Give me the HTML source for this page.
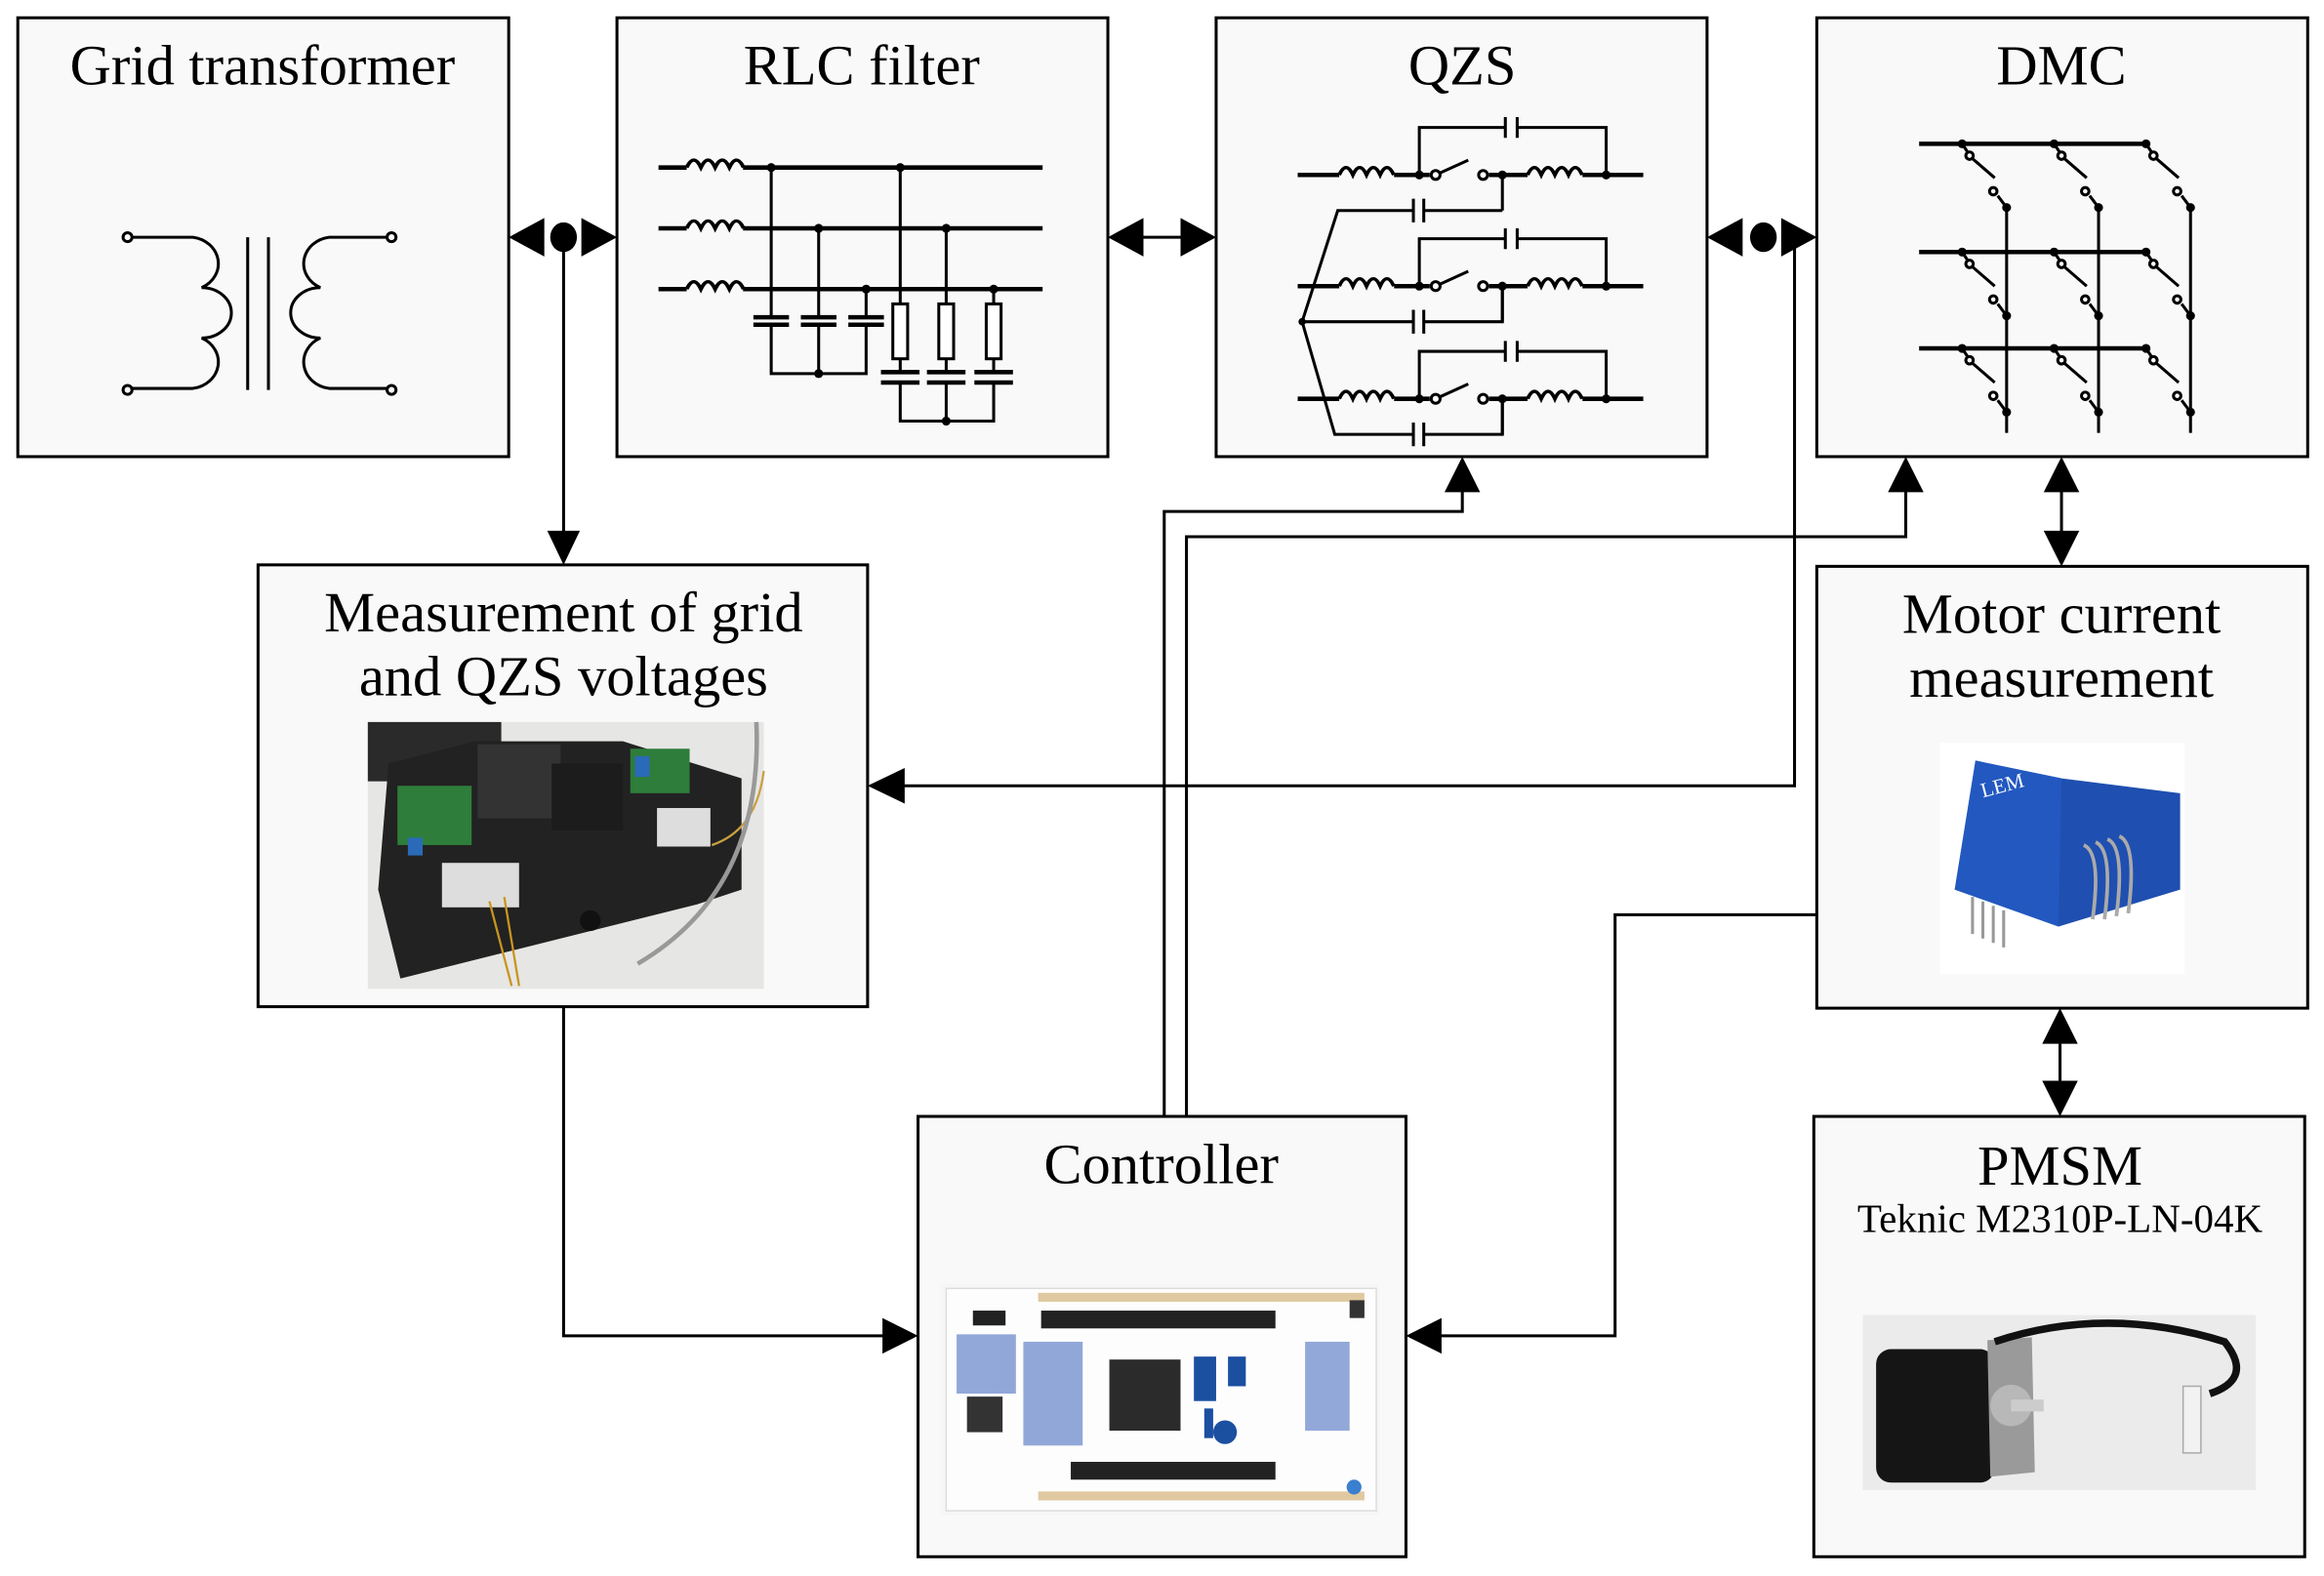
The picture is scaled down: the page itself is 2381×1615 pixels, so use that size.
<!DOCTYPE html>
<html><head><meta charset="utf-8"><style>
html,body{margin:0;padding:0;background:#fff;}
svg{display:block;}
text{font-family:"Liberation Serif",serif;fill:#000;}
</style></head><body>
<svg width="2381" height="1615" viewBox="0 0 1567 1063" preserveAspectRatio="none" xmlns="http://www.w3.org/2000/svg">
<defs>
<g id="ind"><path d="M0,0 q4,-10 8,0 q4,-10 8,0 q4,-10 8,0 q4,-10 8,0" fill="none" stroke="#000" stroke-width="2.2"/></g>
</defs>
<rect width="1567" height="1063" fill="#fff"/>
<g fill="#f9f9f9" stroke="#000" stroke-width="2">
<rect x="12" y="12" width="331" height="296"/>
<rect x="416" y="12" width="331" height="296"/>
<rect x="820" y="12" width="331" height="296"/>
<rect x="1225" y="12" width="331" height="296"/>
<rect x="174" y="381" width="411" height="298"/>
<rect x="1225" y="382" width="331" height="298"/>
<rect x="619" y="753" width="329" height="297"/>
<rect x="1223" y="753" width="331" height="297"/>
</g>
<g font-size="38.5" text-anchor="middle">
<text x="177" y="57">Grid transformer</text>
<text x="581" y="57">RLC filter</text>
<text x="986" y="57">QZS</text>
<text x="1390" y="57">DMC</text>
<text x="380" y="426">Measurement of grid</text>
<text x="380" y="469">and QZS voltages</text>
<text x="1390" y="427">Motor current</text>
<text x="1390" y="470">measurement</text>
<text x="783" y="798">Controller</text>
<text x="1389" y="799">PMSM</text>
<text x="1389" y="831" font-size="27">Teknic M2310P-LN-04K</text>
</g>
<!-- connectors -->
<g stroke="#000" stroke-width="2" fill="none">
<path d="M380,160 V362"/>
<path d="M1210,160 V530 H605"/>
<path d="M785,753 V345 H986 V328"/>
<path d="M800,753 V362 H1285 V328"/>
<path d="M1390,330 V360"/>
<path d="M1389,700 V732"/>
<path d="M380,679 V901 H600"/>
<path d="M1225,617 H1089 V901 H968"/>
<path d="M765,160 H802"/>
</g>
<g fill="#000">
<polygon points="343,160 367,147 367,173"/><polygon points="416,160 392,147 392,173"/><ellipse cx="380" cy="160" rx="9" ry="10"/>
<polygon points="369,358 391,358 380,381"/>
<polygon points="747,160 771,147 771,173"/><polygon points="820,160 796,147 796,173"/>
<polygon points="1151,160 1175,147 1175,173"/><polygon points="1225,160 1201,147 1201,173"/><ellipse cx="1189" cy="160" rx="9" ry="10"/>
<polygon points="585,530 610,518 610,542"/>
<polygon points="986,308 974,332 998,332"/>
<polygon points="1285,308 1273,332 1297,332"/>
<polygon points="1390,308 1378,332 1402,332"/><polygon points="1390,382 1378,358 1402,358"/>
<polygon points="1389,680 1377,704 1401,704"/><polygon points="1389,753 1377,729 1401,729"/>
<polygon points="619,901 595,889 595,913"/>
<polygon points="948,901 972,889 972,913"/>
</g>
<!-- transformer -->
<g stroke="#000" stroke-width="2" fill="none">
<path d="M89,160 H130 A20,18 0 0 1 136,194 A20,17 0 0 1 136,228 A20,18 0 0 1 130,262 H89"/>
<path d="M261,160 H222 A20,18 0 0 0 216,194 A20,17 0 0 0 216,228 A20,18 0 0 0 222,262 H261"/>
<path d="M167,160 V263 M181,160 V263"/>
<circle cx="86" cy="160" r="3" fill="#fff"/><circle cx="86" cy="263" r="3" fill="#fff"/>
<circle cx="264" cy="160" r="3" fill="#fff"/><circle cx="264" cy="263" r="3" fill="#fff"/>
</g>
<!-- RLC -->
<g stroke="#000" stroke-width="3" fill="none">
<path d="M444,113 H463 M501,113 H703 M444,154 H463 M501,154 H703 M444,195 H463 M501,195 H703"/>
</g>
<g transform="translate(463,113)"><use href="#ind" transform="scale(1.2,1)"/></g>
<g transform="translate(463,154)"><use href="#ind" transform="scale(1.2,1)"/></g>
<g transform="translate(463,195)"><use href="#ind" transform="scale(1.2,1)"/></g>
<g stroke="#000" stroke-width="2" fill="none">
<path d="M520,113 V214 M520,219 V252 H584 V219 M552,154 V214 M552,219 V252 M584,195 V214"/>
<path d="M508,214 H532 M508,219 H532 M540,214 H564 M540,219 H564 M572,214 H596 M572,219 H596" stroke-width="3"/>
<path d="M607,113 V205 M638,154 V205 M670,195 V205 M607,242 V251 M638,242 V251 M670,242 V251 M607,258 V284 H670 V258 M638,258 V284"/>
<rect x="602" y="205" width="10" height="37" fill="#fff"/><rect x="633" y="205" width="10" height="37" fill="#fff"/><rect x="665" y="205" width="10" height="37" fill="#fff"/>
<path d="M594,251 H620 M594,258 H620 M625,251 H651 M625,258 H651 M657,251 H683 M657,258 H683" stroke-width="3"/>
</g>
<g fill="#000"><circle cx="520" cy="113" r="3"/><circle cx="607" cy="113" r="3"/><circle cx="552" cy="154" r="3"/><circle cx="638" cy="154" r="3"/><circle cx="584" cy="195" r="3"/><circle cx="670" cy="195" r="3"/><circle cx="552" cy="252" r="3"/><circle cx="638" cy="284" r="3"/></g>
<!-- QZS -->
<g id="qrow" stroke="#000" stroke-width="2" fill="none">
<path d="M875,118 H903 M940,118 H964 M1004,118 H1030 M1067,118 H1108" stroke-width="3"/>
<path d="M957,118 V86 H1015 M1023,86 H1083 V118 M1015,79 V93 M1023,79 V93 M968,118 L990,108 M1013,118 V142"/>
<circle cx="968" cy="118" r="3" fill="#fff"/><circle cx="1000" cy="118" r="3" fill="#fff"/>
<circle cx="957" cy="118" r="2" fill="#000"/><circle cx="1013" cy="118" r="2" fill="#000"/><circle cx="1083" cy="118" r="2" fill="#000"/>
</g>
<g transform="translate(903,118)"><use href="#ind" transform="scale(1.15,1)"/></g>
<g transform="translate(1030,118)"><use href="#ind" transform="scale(1.15,1)"/></g>
<use href="#qrow" transform="translate(0,75)"/>
<g transform="translate(903,193)"><use href="#ind" transform="scale(1.15,1)"/></g>
<g transform="translate(1030,193)"><use href="#ind" transform="scale(1.15,1)"/></g>
<use href="#qrow" transform="translate(0,151)"/>
<g transform="translate(903,269)"><use href="#ind" transform="scale(1.15,1)"/></g>
<g transform="translate(1030,269)"><use href="#ind" transform="scale(1.15,1)"/></g>
<g stroke="#000" stroke-width="2" fill="none">
<path d="M1013,142 H960 M953,142 H902 L878,217 L900,293 H953 M960,293 H1013 V269"/>
<path d="M878,217 H953 M960,217 H1013 V193"/>
<path d="M953,134 V150 M960,134 V150 M953,209 V225 M960,209 V225 M953,285 V301 M960,285 V301"/>
</g>
<circle cx="878" cy="217" r="2.5" fill="#000"/>
<!-- DMC -->
<g stroke="#000" stroke-width="2" fill="none">
<path d="M1294,97 H1448 M1294,170 H1448 M1294,235 H1448" stroke-width="3"/>
<path d="M1353,138 V292 M1415,138 V292 M1477,138 V292"/>
</g>
<g id="sw" stroke="#000" stroke-width="2" fill="none">
<path d="M1323,97 L1327,103 M1330,107 L1345,120 M1347,132 L1353,140"/>
<circle cx="1328" cy="105" r="2.5" fill="#fff"/><circle cx="1344" cy="129" r="2.5" fill="#fff"/>
<circle cx="1323" cy="97" r="2" fill="#000"/><circle cx="1353" cy="140" r="2" fill="#000"/>
</g>
<use href="#sw" transform="translate(62,0)"/><use href="#sw" transform="translate(124,0)"/>
<use href="#sw" transform="translate(0,73)"/><use href="#sw" transform="translate(62,73)"/><use href="#sw" transform="translate(124,73)"/>
<use href="#sw" transform="translate(0,138)"/><use href="#sw" transform="translate(62,138)"/><use href="#sw" transform="translate(124,138)"/>
<!-- measurement photo -->
<rect x="248" y="487" width="267" height="180" fill="#e6e6e4"/>
<rect x="248" y="487" width="90" height="40" fill="#2a2a2a"/>
<polygon points="262,515 320,500 420,500 500,525 500,600 470,610 350,640 270,660 255,600" fill="#222"/>
<rect x="322" y="502" width="56" height="50" fill="#333"/>
<rect x="372" y="515" width="48" height="45" fill="#1c1c1c"/>
<rect x="268" y="530" width="50" height="40" fill="#2e7d3a"/>
<rect x="425" y="505" width="40" height="30" fill="#2e7d3a"/>
<rect x="298" y="582" width="52" height="30" fill="#ddd"/>
<rect x="443" y="545" width="36" height="26" fill="#ddd"/>
<circle cx="398" cy="621" r="7" fill="#111"/>
<rect x="428" y="510" width="10" height="14" fill="#2a6ab8"/><rect x="275" y="565" width="10" height="12" fill="#2a6ab8"/>
<path d="M330,608 L345,665 M340,605 L350,665" stroke="#c89520" stroke-width="1.5"/>
<path d="M480,570 Q510,560 515,520" stroke="#c8a040" stroke-width="1.5" fill="none"/>
<path d="M430,650 Q515,600 510,487" stroke="#999" stroke-width="3" fill="none"/>
<!-- controller board -->
<rect x="634" y="866" width="296" height="156" fill="#f6f6f6"/>
<rect x="638" y="869" width="290" height="150" fill="#fdfdfd" stroke="#ddd"/>
<rect x="700" y="872" width="220" height="6" fill="#e0c9a0"/>
<rect x="702" y="884" width="158" height="12" fill="#222"/>
<rect x="722" y="986" width="138" height="12" fill="#222"/>
<rect x="700" y="1006" width="220" height="6" fill="#e0c9a0"/>
<rect x="748" y="917" width="48" height="48" fill="#2b2b2b"/>
<rect x="652" y="942" width="24" height="24" fill="#333"/>
<rect x="656" y="884" width="22" height="10" fill="#222"/>
<circle cx="913" cy="1003" r="5" fill="#3a7fd0"/>
<rect x="910" y="877" width="10" height="12" fill="#333"/>
<g fill="#1b4fa0"><rect x="805" y="915" width="15" height="30"/><rect x="828" y="915" width="12" height="20"/><circle cx="826" cy="966" r="8"/><rect x="812" y="950" width="6" height="20"/></g>
<g fill="#4b6fc0" opacity="0.6"><rect x="645" y="900" width="40" height="40"/><rect x="880" y="905" width="30" height="60"/><rect x="690" y="905" width="40" height="70"/></g>
<!-- LEM -->
<rect x="1308" y="501" width="165" height="156" fill="#fff"/>
<polygon points="1332,513 1390,525 1470,535 1470,600 1388,625 1318,600" fill="#1f4fb0"/>
<polygon points="1332,513 1390,525 1388,625 1318,600" fill="#2258c0"/>
<path d="M1405,570 q12,5 6,50 M1413,568 q12,5 6,52 M1421,566 q12,5 6,52 M1429,564 q12,5 6,52" stroke="#aaa" stroke-width="2.5" fill="none"/>
<path d="M1330,605 v25 M1337,608 v25 M1344,611 v25 M1351,614 v25" stroke="#999" stroke-width="2"/>
<text x="1337" y="538" font-family="Liberation Sans,sans-serif" font-size="14" style="fill:#fff" transform="rotate(-15 1337 538)">LEM</text>
<!-- motor -->
<rect x="1256" y="887" width="265" height="118" fill="#ebebeb"/>
<rect x="1265" y="910" width="80" height="90" rx="10" fill="#151515"/>
<polygon points="1340,904 1370,902 1372,993 1342,996" fill="#9a9a9a"/>
<circle cx="1356" cy="948" r="14" fill="#b8b8b8"/>
<rect x="1356" y="944" width="22" height="8" fill="#ccc"/>
<path d="M1345,905 Q1420,880 1500,905 Q1520,930 1490,940" stroke="#111" stroke-width="5" fill="none"/>
<rect x="1472" y="935" width="12" height="45" fill="#f2f2f2" stroke="#aaa"/>
</svg>
</body></html>
